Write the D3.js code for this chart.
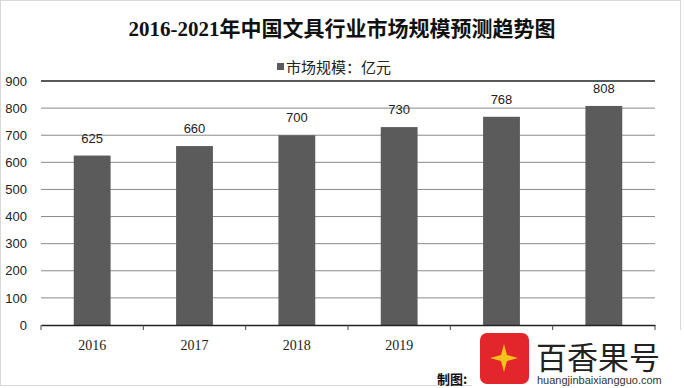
<!DOCTYPE html>
<html><head><meta charset="utf-8">
<script src="https://cdn.jsdelivr.net/npm/d3@7/dist/d3.min.js"></script>
<style>body{margin:0;background:#fff;}svg{display:block;}</style>
</head><body><svg id="c" width="684" height="388"></svg>
<script>
const categories = ["2016","2017","2018","2019","2020","2021"];
const values = [625, 660, 700, 730, 768, 808];
const yTicks = [0,100,200,300,400,500,600,700,800,900];
const title = "2016-2021年中国文具行业市场规模预测趋势图";
const legendLabel = "市场规模：亿元";

const svg = d3.select("#c");
const W = 684, H = 388;
svg.append("rect").attr("x",0.5).attr("y",0.5).attr("width",W-4).attr("height",H-3)
  .attr("fill","#fff").attr("stroke","#d8d8d8");

const m = {l:41, r:29, t:81, b:63};
const x = d3.scaleBand().domain(categories).range([m.l, W-m.r]).paddingInner(0.64).paddingOuter(0.32);
const y = d3.scaleLinear().domain([0,900]).range([H-m.b, m.t]);

// gridlines
svg.append("g").selectAll("line").data(yTicks.filter(d=>d>0)).join("line")
  .attr("x1",m.l).attr("x2",W-m.r).attr("y1",d=>y(d)).attr("y2",d=>y(d))
  .attr("stroke",d=>d===900?"#222":"#8a8a8a").attr("stroke-width",d=>d===900?1.6:1);

// y axis labels
const ya = svg.append("g").attr("transform",`translate(${m.l},0)`)
  .call(d3.axisLeft(y).tickValues(yTicks).tickSize(0).tickPadding(14));
ya.select(".domain").remove();
ya.selectAll("text").attr("font-family","Liberation Sans, Arial").attr("font-size",13).attr("fill","#222");

// bars
svg.append("g").selectAll("rect").data(values).join("rect")
  .attr("x",(d,i)=>x(categories[i])).attr("width",x.bandwidth())
  .attr("y",d=>y(d)).attr("height",d=>y(0)-y(d)).attr("fill","#5b5b5b");

// value labels
svg.append("g").selectAll("text").data(values).join("text")
  .attr("x",(d,i)=>x(categories[i])+x.bandwidth()/2).attr("y",d=>y(d)-13)
  .attr("text-anchor","middle").attr("font-family","Liberation Sans, Arial").attr("font-size",13).attr("fill","#222")
  .text(d=>d);

// x axis
const xa = svg.append("g").attr("transform",`translate(0,${y(0)})`)
  .call(d3.axisBottom(x).tickSize(0).tickPadding(15));
xa.select(".domain").attr("stroke","#222").attr("stroke-width",1.5);
xa.selectAll("text").attr("font-family","Liberation Serif, serif").attr("font-size",14).attr("fill","#222");
// separator ticks between categories
const seps = d3.range(0, categories.length+1).map(i=>m.l + i*(W-m.l-m.r)/categories.length);
svg.append("g").selectAll("line").data(seps).join("line")
  .attr("x1",d=>d).attr("x2",d=>d).attr("y1",y(0)).attr("y2",y(0)+5)
  .attr("stroke","#444").attr("stroke-width",1);

// title
svg.append("text").attr("x",342).attr("y",36).attr("text-anchor","middle")
  .attr("font-family","Liberation Serif, Noto Sans CJK SC").attr("font-weight","bold").attr("font-size",21).attr("fill","#111")
  .text(title);

// legend
svg.append("rect").attr("x",277).attr("y",63).attr("width",7).attr("height",7).attr("fill","#5b5b5b");
svg.append("text").attr("x",286).attr("y",73).attr("font-family","Noto Sans CJK SC").attr("font-size",15).attr("fill","#222")
  .text(legendLabel);

// watermark overlay
const wm = svg.append("g");
wm.append("rect").attr("x",472).attr("y",330).attr("width",212).attr("height",58).attr("fill","#fff");
wm.append("text").attr("x",437).attr("y",384).attr("font-family","Noto Sans CJK SC").attr("font-weight","bold").attr("font-size",13).attr("fill","#111").text("制图:");
wm.append("rect").attr("x",480).attr("y",333).attr("width",49).attr("height",51).attr("rx",7).attr("fill","#e2262c");
wm.append("path").attr("d","M504,344 L507,355 L518,358 L507,361 L504,372 L501,361 L490,358 L501,355 Z").attr("fill","#f5c21b");
wm.append("text").attr("x",536).attr("y",369).attr("font-family","Noto Sans CJK SC").attr("font-size",31).attr("fill","#222").text("百香果号");
wm.append("text").attr("x",537).attr("y",384).attr("font-family","Liberation Sans, Arial").attr("font-size",11).attr("fill","#333").text("huangjinbaixiangguo.com");
</script></body></html>
